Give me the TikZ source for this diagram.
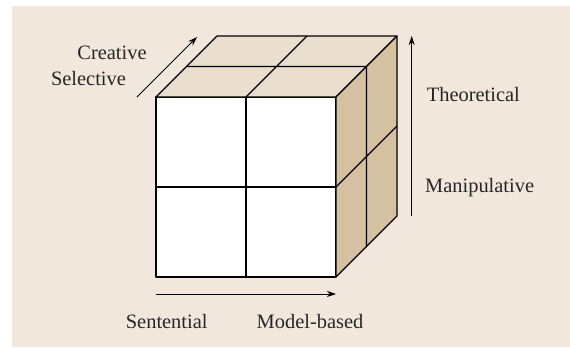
\documentclass[tikz,border=0pt]{standalone}
\usepackage{fontspec}
\setmainfont{Liberation Serif}
\usetikzlibrary{arrows.meta}
\definecolor{paper}{RGB}{242,231,221}
\definecolor{topface}{RGB}{234,222,206}
\definecolor{sideface}{RGB}{214,192,162}
\begin{document}
\begin{tikzpicture}[x=1bp,y=-1bp,line join=round,
  edge/.style={line width=1.1bp,black},
  axis/.style={line width=1bp,-{Stealth[length=9bp,width=6bp]}},
  lbl/.style={font=\fontsize{20.5}{24}\selectfont,inner sep=0pt,text=black!85}]
  \useasboundingbox (0,0) rectangle (570,347);
  \fill[paper] (12,6) rectangle (570,347);
  % cube faces
  \filldraw[edge,fill=white] (156,97) rectangle (336,277);
  \filldraw[edge,fill=topface] (156,97) -- (336,97) -- (397,36) -- (217,36) -- cycle;
  \filldraw[edge,fill=sideface] (336,97) -- (397,36) -- (397,216) -- (336,277) -- cycle;
  \draw[edge] (246,97) -- (246,277) (156,187) -- (336,187);
  \draw[edge] (246,97) -- (307,36) (186.5,66.5) -- (366.5,66.5);
  \draw[edge] (336,187) -- (397,126) (366.5,66.5) -- (366.5,246.5);
  % axes
  \coordinate (vlow) at (411.7,216);
  \coordinate (vhigh) at (411.7,36);
  \coordinate (hlow) at (156,294);
  \coordinate (hhigh) at (336,294);
  \coordinate (dlow) at (137,97);
  \coordinate (dhigh) at (197,37);
  \draw[axis] (vlow) -- (vhigh);
  \draw[axis] (hlow) -- (hhigh);
  \draw[axis] (dlow) -- (dhigh);
  \node[lbl] (creative) at (112,53) {Creative};
  \node[lbl] (selective) at (88.5,79) {Selective};
  \node[lbl,anchor=west] (theoretical) at (426.7,95) {Theoretical};
  \node[lbl,anchor=west] (manipulative) at (425,188) {Manipulative};
  \node[lbl] (sentential) at (166.7,322) {Sentential};
  \node[lbl] (modelbased) at (310,322) {Model-based};
\end{tikzpicture}
\end{document}
